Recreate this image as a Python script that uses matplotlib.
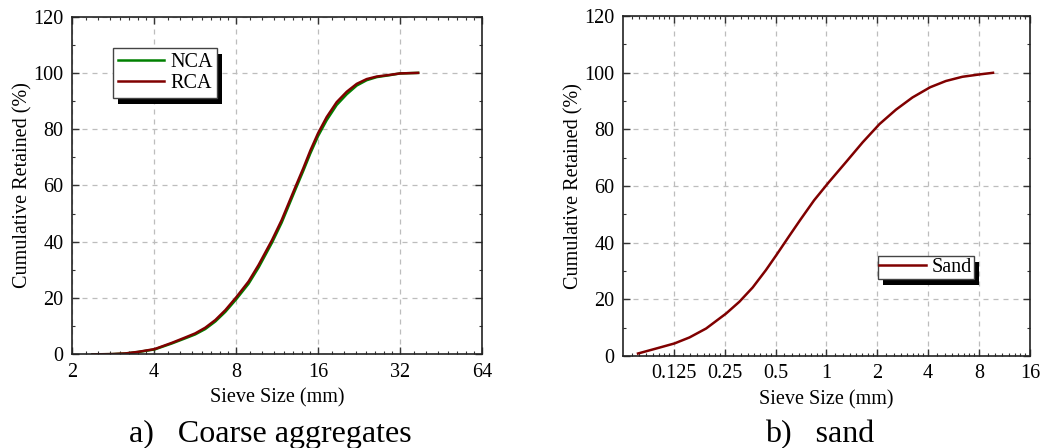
import matplotlib
matplotlib.use("Agg")
import matplotlib.pyplot as plt
import numpy as np
from matplotlib.patches import Rectangle
from matplotlib.transforms import IdentityTransform
from matplotlib.ticker import FixedLocator, MultipleLocator, NullFormatter

plt.rcParams["font.family"] = ["Liberation Serif", "DejaVu Serif"]

# coarse aggregates
coarse_size = [2.38, 2.8, 3.14, 3.51, 4.02, 4.66, 5.21, 5.67, 6.17, 6.72, 7.31, 8.02,
               8.9, 9.69, 10.85, 11.77, 13.29, 14.13, 15.0, 16.0, 17.22, 18.74, 20.4,
               22.2, 24.15, 26.3, 29.4, 32.0, 37.3]
rca_retained = [0, 0.1, 0.33, 0.92, 1.87, 4.12, 6.0, 7.46, 9.47, 12.2, 15.7, 20.3,
                25.9, 31.8, 40.6, 47.7, 60.0, 66.1, 72.4, 78.5, 84.3, 89.6, 93.3,
                96.1, 97.8, 98.7, 99.3, 99.8, 100]
nca_retained = [0, 0.08, 0.3, 0.85, 1.75, 3.9, 5.7, 7.1, 9.0, 11.7, 15.1, 19.6,
                25.1, 30.9, 39.7, 46.8, 59.1, 65.2, 71.4, 77.5, 83.2, 88.6, 92.4,
                95.5, 97.4, 98.5, 99.2, 99.8, 100]

# sand
sand_size = [0.0767, 0.0983, 0.1262, 0.1546, 0.194, 0.255, 0.305, 0.366, 0.438,
             0.507, 0.602, 0.70, 0.845, 1.03, 1.31, 1.64, 2.06, 2.58, 3.23,
             4.11, 5.09, 6.38, 8.23, 9.68]
sand_retained = [0.94, 2.7, 4.5, 6.6, 9.76, 15.07, 19.18, 24.24, 30.35,
                 35.8, 42.4, 48.1, 55.0, 61.3, 68.6, 75.5, 81.9, 87.0, 91.3,
                 94.9, 97.1, 98.6, 99.5, 100]

coarse_ticks = [2, 4, 8, 16, 32, 64]
coarse_labels = ["2", "4", "8", "16", "32", "64"]
sand_ticks = [0.125, 0.25, 0.5, 1, 2, 4, 8, 16]
sand_labels = ["0.125", "0.25", "0.5", "1", "2", "4", "8", "16"]

GREEN = "#008000"
DRED = "#800000"
FS = 14.5


def style_axes(ax, xlim, ticks, labels):
    ax.set_xscale("log", base=2)
    ax.set_xlim(*xlim)
    ax.set_ylim(0, 120)
    ax.xaxis.set_major_locator(FixedLocator(ticks))
    ax.set_xticklabels(labels)
    # minor ticks: 7 per doubling
    lo, hi = np.log2(xlim[0]), np.log2(xlim[1])
    minors = [2.0 ** e * (1 + k / 8) for e in range(int(lo), int(hi)) for k in range(1, 8)]
    ax.xaxis.set_minor_locator(FixedLocator(minors))
    ax.xaxis.set_minor_formatter(NullFormatter())
    ax.yaxis.set_major_locator(MultipleLocator(20))
    ax.yaxis.set_minor_locator(MultipleLocator(10))
    ax.tick_params(which="both", direction="in", top=True, right=True,
                   labelsize=FS, color="#333333")
    ax.tick_params(which="major", length=5, width=1.0, pad=6)
    ax.tick_params(which="minor", length=2.5, width=0.8)
    ax.grid(True, which="major", ls=(0, (4, 4)), color="#bdbdbd", lw=0.9)
    for s in ax.spines.values():
        s.set_linewidth(1.2)
        s.set_color("#222222")
    ax.set_xlabel("Sieve Size (mm)", fontsize=FS, labelpad=5)
    ax.set_ylabel("Cumulative Retained (%)", fontsize=FS, labelpad=1)


def add_legend(ax, anchor, pad):
    leg = ax.legend(loc="upper left", bbox_to_anchor=anchor, borderaxespad=0,
                    fontsize=FS, frameon=True, fancybox=False, borderpad=pad,
                    labelspacing=0.1, handlelength=2.3, handletextpad=0.3)
    leg.get_frame().set_edgecolor("#444444")
    leg.get_frame().set_linewidth(1.0)
    leg.get_frame().set_alpha(1)
    return leg


fig = plt.figure(figsize=(10.46, 4.48), dpi=100)
ax1 = fig.add_axes([0.0688, 0.209, 0.392, 0.754])
ax2 = fig.add_axes([0.5956, 0.205, 0.389, 0.759])

ax1.plot(coarse_size, nca_retained, color=GREEN, lw=1.8, label="NCA")
ax1.plot(coarse_size, rca_retained, color=DRED, lw=1.8, label="RCA")
style_axes(ax1, (2, 64), coarse_ticks, coarse_labels)
leg1 = add_legend(ax1, (0.099, 0.908), 0.25)

ax2.plot(sand_size, sand_retained, color=DRED, lw=1.8, label="Sand")
style_axes(ax2, (0.0625, 16), sand_ticks, sand_labels)
leg2 = add_legend(ax2, (0.626, 0.294), 0.08)

# black drop shadow behind the legends
fig.canvas.draw()
for ax, leg in ((ax1, leg1), (ax2, leg2)):
    bb = leg.get_window_extent()
    sh = Rectangle((bb.x0 + 5, bb.y0 - 6), bb.width, bb.height, transform=IdentityTransform(),
                   facecolor="black", edgecolor="none", zorder=4.9, clip_on=False)
    ax.add_artist(sh)

fig.text(0.258, 0.030, "a)   Coarse aggregates", fontsize=23, ha="center", va="center")
fig.text(0.784, 0.030, "b)   sand", fontsize=23, ha="center", va="center")

fig.savefig("out.png", dpi=100)
